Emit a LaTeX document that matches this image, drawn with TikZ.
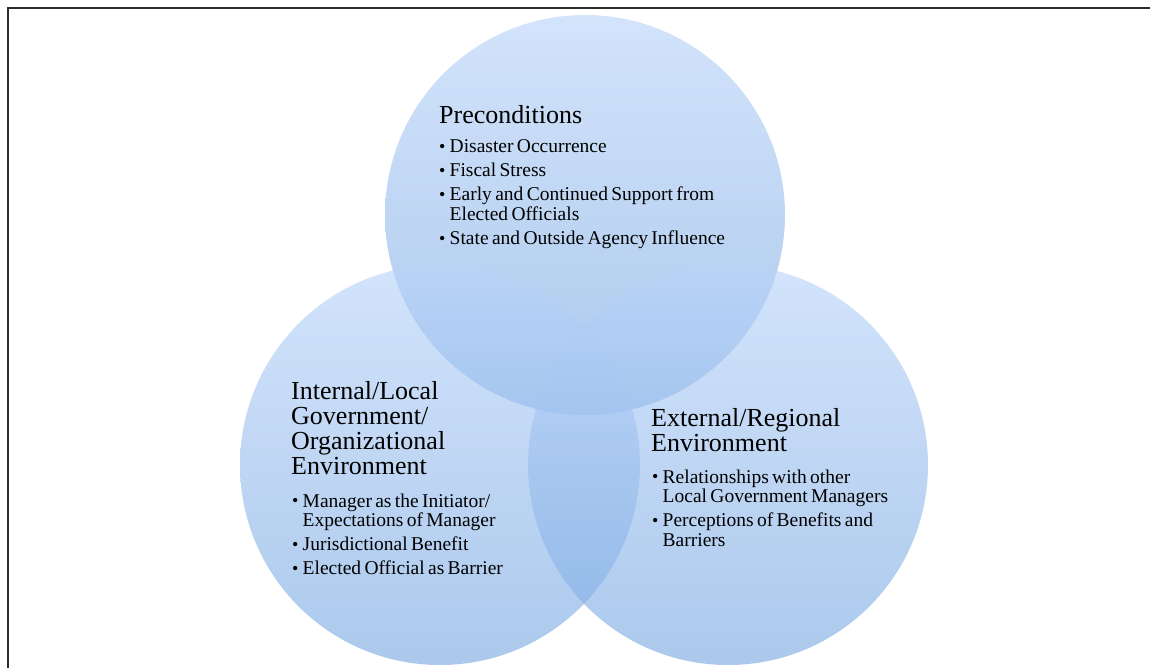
\documentclass[tikz,border=0pt]{standalone}
\usepackage{fontspec}
\setmainfont{Liberation Serif}

% type sizes for the circle headings and the bullet lists
\newcommand\headsize{\fontsize{26}{25.3}\selectfont\parindent=0pt\relax}
\newcommand\listsize{\fontsize{19.5}{19.5}\selectfont\parskip=4.5pt\relax\parindent=0pt\relax}
% one bullet item with a hanging indent for its wrapped lines
\newcommand\bulletline[1]{\hangindent=10.5pt\hangafter=1\noindent\makebox[10.5pt][l]{\raisebox{0.3pt}{\fontsize{18}{18}\selectfont\textbullet}}#1\par}

\definecolor{venntop}{RGB}{186,212,249}
\definecolor{vennbottom}{RGB}{124,170,226}
\definecolor{framegray}{RGB}{45,45,45}

\begin{document}
\begin{tikzpicture}[x=1pt,y=-1pt,
  venn/.style={circle, minimum size=400pt, inner sep=0pt, draw=none,
    top color=venntop, bottom color=vennbottom, fill opacity=0.64},
  heading/.style={anchor=base west, inner sep=0pt, text width=320pt},
  points/.style={anchor=base west, inner sep=0pt, text width=320pt},
  frameline/.style={draw=framegray, line width=1.6pt}
]
\useasboundingbox (0,0) rectangle (1150,668);

% page frame along the top and left edges
\coordinate (frameTL) at (8,8);
\coordinate (frameTR) at (1150,8);
\coordinate (frameBL) at (8,668);
\draw[frameline] (frameTR) -- (frameTL) -- (frameBL);

% the three overlapping circles
\node[venn] (pre) at (585,215) {};
\node[venn] (internal) at (440,465) {};
\node[venn] (external) at (728,465) {};

% Preconditions
\node[heading] (pre-head) at (439,124) {\headsize Preconditions};
\node[points] (pre-list) at (439,153) {\listsize
  \bulletline{Disaster Occurrence}
  \bulletline{Fiscal Stress}
  \bulletline{Early and Continued Support from\newline Elected Officials}
  \bulletline{State and Outside Agency Influence}};

% Internal / local environment
\node[heading] (internal-head) at (291,399) {\headsize Internal/Local\newline Government/\newline Organizational\newline Environment\par};
\node[points] (internal-list) at (292,507) {\listsize
  \bulletline{Manager as the Initiator/\newline Expectations of Manager}
  \bulletline{Jurisdictional Benefit}
  \bulletline{Elected Official as Barrier}};

% External / regional environment
\node[heading] (external-head) at (651,426) {\headsize External/Regional\newline Environment\par};
\node[points] (external-list) at (652,483) {\listsize
  \bulletline{Relationships with other\newline Local Government Managers}
  \bulletline{Perceptions of Benefits and\newline Barriers}};
\end{tikzpicture}
\end{document}
